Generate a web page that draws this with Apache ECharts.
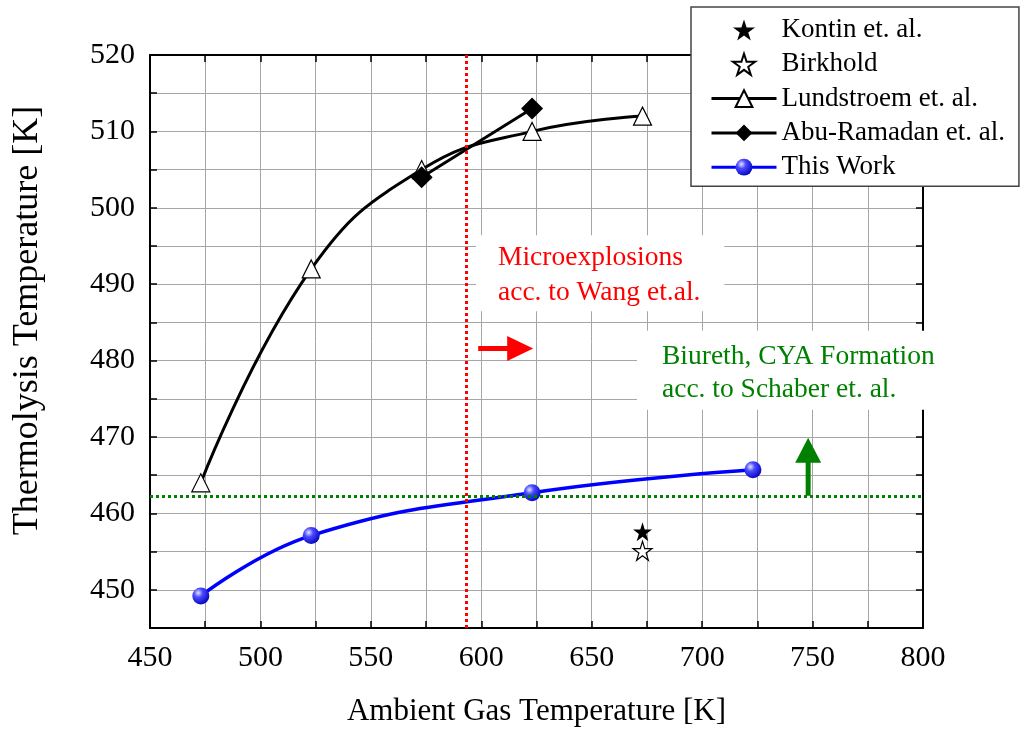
<!DOCTYPE html>
<html>
<head>
<meta charset="utf-8">
<script src="https://cdn.jsdelivr.net/npm/echarts@6/dist/echarts.min.js"></script>
<style>
  html, body { margin: 0; padding: 0; background: #fff; }
  #chart { width: 1024px; height: 731px; }
</style>
</head>
<body>
<div id="chart"></div>
<script>
// Ambient gas temperature [K] vs. thermolysis temperature [K]
const lundstroemX = [473, 523, 573, 623, 673];
const lundstroemY = [464, 492, 505, 510, 512];
const abuRamadanX = [573, 623];
const abuRamadanY = [504, 513];
const thisWorkX = [473, 523, 623, 723];
const thisWorkY = [449.2, 457.1, 462.7, 465.7];
const kontinPoint = [673, 457.6];
const birkholdPoint = [673, 455.1];

// Reference limits
const wangOnsetX = 593;      // microexplosion onset (Wang et al.)
const schaberLimitY = 462.3; // biuret / CYA formation (Schaber et al.)

// Notes and arrows, anchored in data coordinates
const wangNoteLines = ['Microexplosions', 'acc. to Wang et.al.'];
const wangNoteAt = [597.6, 496.4];
const schaberNoteLines = ['Biureth, CYA Formation', 'acc. to Schaber et. al.'];
const schaberNoteAt = [670.5, 483.9];
const wangArrow = [[598.6, 481.6], [623.5, 481.6]];
const schaberArrow = [[748, 462.3], [748, 469.9]];

const zip = (xs, ys) => xs.map((x, i) => [x, ys[i]]);

const SERIF = '"Liberation Serif", "DejaVu Serif", serif';
const STAR = 'path://M50,0 L61.2,34.5 L97.6,34.5 L68.2,55.9 L79.4,90.5 L50,69.1 L20.6,90.5 L31.8,55.9 L2.4,34.5 L38.8,34.5 Z';
const sphere = {
  type: 'radial', x: 0.35, y: 0.32, r: 0.75,
  colorStops: [
    { offset: 0, color: '#e6e6ff' },
    { offset: 0.35, color: '#4a4aff' },
    { offset: 1, color: '#0000b8' }
  ]
};

const gridColor = '#a6a6a6';

function baseX(pos, showLabels) {
  return {
    type: 'value', position: pos, min: 450, max: 800, interval: 25,
    axisLine: { show: true, onZero: false, lineStyle: { color: '#000', width: 2 } },
    axisTick: { show: true, inside: true, length: 7, lineStyle: { color: '#000', width: 1.5 } },
    axisLabel: {
      show: showLabels, margin: 15, fontFamily: SERIF, fontSize: 30, color: '#000',
      formatter: v => (v % 50 === 0 ? String(v) : '')
    },
    splitLine: { show: showLabels, lineStyle: { color: gridColor, width: 1 } }
  };
}
function baseY(pos, showLabels) {
  return {
    type: 'value', position: pos, min: 445, max: 520, interval: 5,
    axisLine: { show: true, onZero: false, lineStyle: { color: '#000', width: 2 } },
    axisTick: { show: true, inside: true, length: 7, lineStyle: { color: '#000', width: 1.5 } },
    axisLabel: {
      show: showLabels, margin: 15, fontFamily: SERIF, fontSize: 30, color: '#000',
      formatter: v => (v % 10 === 0 ? String(v) : '')
    },
    splitLine: { show: showLabels, lineStyle: { color: gridColor, width: 1 } }
  };
}

const chart = echarts.init(document.getElementById('chart'), null, { renderer: 'canvas' });

const xBottom = baseX('bottom', true);
xBottom.name = 'Ambient Gas Temperature [K]';
xBottom.nameLocation = 'middle';
xBottom.nameGap = 68;
xBottom.nameTextStyle = { fontFamily: SERIF, fontSize: 31, color: '#000' };

const yLeft = baseY('left', true);
yLeft.name = 'Thermolysis Temperature [K]';
yLeft.nameLocation = 'middle';
yLeft.nameGap = 104;
yLeft.nameTextStyle = { fontFamily: SERIF, fontSize: 36, color: '#000', padding: [0, 0, 0, 42] };

chart.setOption({
  animation: false,
  backgroundColor: '#fff',
  grid: { left: 150, right: 101, top: 55, bottom: 103, containLabel: false, outerBoundsMode: 'none' },
  xAxis: [xBottom, baseX('top', false)],
  yAxis: [yLeft, baseY('right', false)],
  legend: {
    orient: 'vertical', left: 691, top: 7,
    padding: [8, 14, 4, 19],
    itemWidth: 65, itemHeight: 21, itemGap: 4.3,
    backgroundColor: '#fff', borderColor: '#444', borderWidth: 1.5,
    textStyle: { fontFamily: SERIF, fontSize: 27, color: '#000', lineHeight: 30 },
    z: 10,
    data: [
      'Kontin et. al.',
      'Birkhold',
      { name: 'Lundstroem et. al.', lineStyle: { width: 3 } },
      { name: 'Abu-Ramadan et. al.', lineStyle: { width: 3 } },
      { name: 'This Work', lineStyle: { width: 3 } }
    ]
  },
  series: [
    {
      name: 'Kontin et. al.', type: 'scatter', symbol: STAR, symbolSize: 19,
      itemStyle: { color: '#000', opacity: 1 },
      data: [kontinPoint], z: 5
    },
    {
      name: 'Birkhold', type: 'scatter', symbol: STAR, symbolSize: 19,
      itemStyle: { color: '#fff', borderColor: '#000', borderWidth: 1.2, opacity: 1 },
      data: [birkholdPoint], z: 5
    },
    {
      name: 'Lundstroem et. al.', type: 'line', smooth: 0.45,
      symbol: 'triangle', symbolSize: 18, showAllSymbol: true,
      lineStyle: { color: '#000', width: 3 },
      itemStyle: { color: '#fff', borderColor: '#000', borderWidth: 1.2 },
      data: zip(lundstroemX, lundstroemY), z: 4,
      markLine: {
        silent: true, symbol: 'none', label: { show: false },
        data: [
          { xAxis: wangOnsetX, lineStyle: { color: '#ff0000', width: 3, type: [3, 3] } },
          { yAxis: schaberLimitY, lineStyle: { color: '#008000', width: 3, type: [3, 3] } }
        ]
      }
    },
    {
      name: 'Abu-Ramadan et. al.', type: 'line',
      symbol: 'diamond', symbolSize: 22,
      lineStyle: { color: '#000', width: 3 },
      itemStyle: { color: '#000' },
      data: zip(abuRamadanX, abuRamadanY), z: 4
    },
    {
      name: 'This Work', type: 'line', smooth: 0.45,
      symbol: 'circle', symbolSize: 17,
      lineStyle: { color: '#0000ff', width: 3.5 },
      itemStyle: { color: sphere },
      data: zip(thisWorkX, thisWorkY), z: 4
    }
  ]
});

// Notes and arrows are placed through the axes' own conversion
const px = p => chart.convertToPixel({ gridIndex: 0 }, p);

function note(lines, at, color, padding, lineHeight) {
  const [x, y] = px(at);
  return {
    type: 'text', x: x, y: y, z: 20, silent: true,
    style: {
      text: lines.join('\n'), fill: color,
      font: '27.5px ' + SERIF, lineHeight: lineHeight,
      backgroundColor: '#fff', padding: padding
    }
  };
}

function arrow(from, to, color, shaft, headLen, headHalf) {
  const [x0, y0] = px(from);
  const [x1, y1] = px(to);
  const dx = x1 - x0, dy = y1 - y0;
  const len = Math.hypot(dx, dy);
  const ux = dx / len, uy = dy / len;
  const nx = -uy, ny = ux;
  const bx = x1 - ux * headLen, by = y1 - uy * headLen;
  const s = shaft / 2;
  return {
    type: 'polygon', z: 21, silent: true,
    shape: {
      points: [
        [x0 + nx * s, y0 + ny * s], [bx + nx * s, by + ny * s],
        [bx + nx * headHalf, by + ny * headHalf], [x1, y1],
        [bx - nx * headHalf, by - ny * headHalf], [bx - nx * s, by - ny * s],
        [x0 - nx * s, y0 - ny * s]
      ]
    },
    style: { fill: color }
  };
}

chart.setOption({
  graphic: [
    note(wangNoteLines, wangNoteAt, '#ff0000', [5, 24, 1, 22], 35),
    note(schaberNoteLines, schaberNoteAt, '#008000', [9, 10, 4, 25], 33),
    arrow(wangArrow[0], wangArrow[1], '#ff0000', 5, 26, 12.5),
    arrow(schaberArrow[0], schaberArrow[1], '#008000', 5, 25, 13)
  ]
});
</script>
</body>
</html>
